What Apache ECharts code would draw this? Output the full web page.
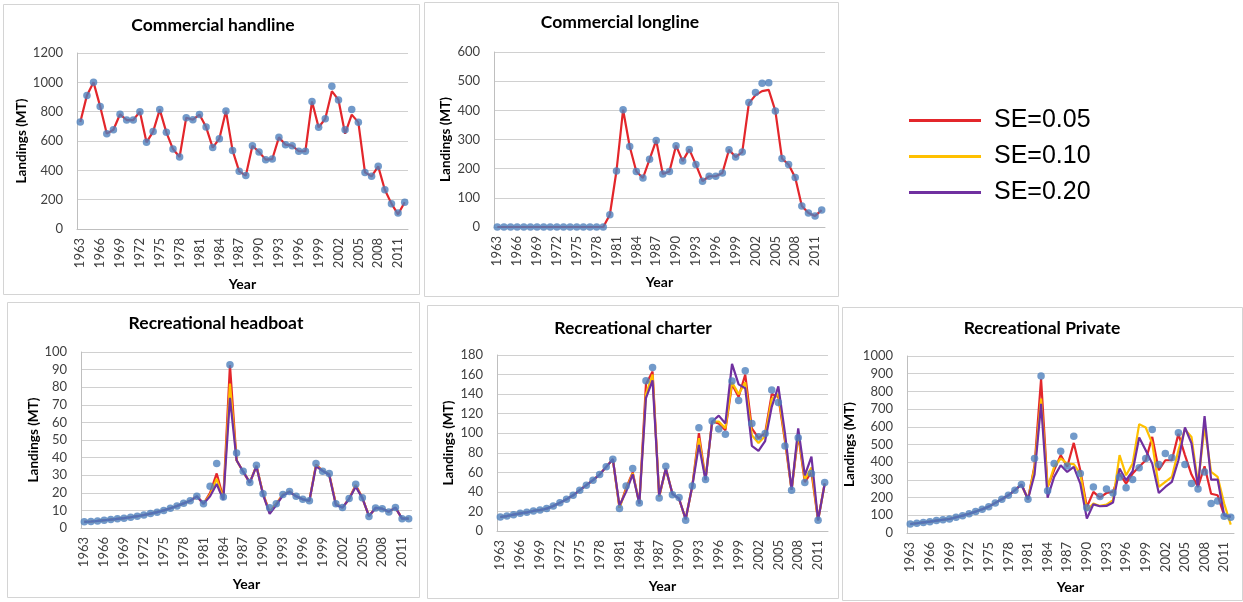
<!DOCTYPE html>
<html>
<head>
<meta charset="utf-8">
<script src="https://cdn.jsdelivr.net/npm/echarts@6/dist/echarts.min.js"></script>
<style>
  html, body { margin: 0; padding: 0; background: #ffffff; }
  #chart { width: 1243px; height: 602px; }
</style>
</head>
<body>
<div id="chart"></div>
<script>
// Years on every category axis
const years = ['1963','1964','1965','1966','1967','1968','1969','1970','1971','1972',
  '1973','1974','1975','1976','1977','1978','1979','1980','1981','1982',
  '1983','1984','1985','1986','1987','1988','1989','1990','1991','1992',
  '1993','1994','1995','1996','1997','1998','1999','2000','2001','2002',
  '2003','2004','2005','2006','2007','2008','2009','2010','2011','2012'];

const seNames = ['SE=0.05', 'SE=0.10', 'SE=0.20'];

// Commercial handline (MT)
const handlineObs = [730,911,1000,836,650,677,782,743,743,800,
  591,664,814,659,545,491,759,745,780,695,
  555,616,805,536,393,364,568,525,473,477,
  625,575,568,530,530,870,693,752,973,880,
  677,814,727,386,359,427,268,173,109,182];
const handlineSE05 = [730,911,1000,836,650,677,782,743,743,800,
  591,664,814,659,545,491,759,745,780,695,
  555,616,805,536,393,364,568,525,473,477,
  625,575,568,530,530,870,693,752,940,880,
  650,780,727,386,359,427,268,173,100,182];

// Commercial longline (MT)
const longlineObs = [0,0,0,0,0,0,0,0,0,0,
  0,0,0,0,0,0,0,42,192,402,
  276,190,168,232,297,182,190,279,226,266,
  214,157,174,174,185,265,240,257,427,461,
  493,495,398,235,214,170,72,48,38,58];
const longlineSE05 = [0,0,0,0,0,0,0,0,0,0,
  0,0,0,0,0,0,0,42,192,402,
  276,190,168,232,297,182,190,279,226,266,
  214,157,174,174,185,265,240,257,424,452,
  466,470,398,235,214,170,72,48,38,58];

// Recreational headboat (MT)
const headboatObs = [3.5,3.7,4.0,4.4,4.8,5.2,5.6,6.1,6.7,7.4,
  8.2,9.0,10.0,11.2,12.5,14.0,15.5,18.0,13.8,23.7,
  36.6,17.6,92.8,42.6,32.2,25.8,35.6,19.5,11.5,13.8,
  19.1,20.8,18.0,16.3,15.5,36.6,32.2,30.9,13.8,11.6,
  16.7,24.8,17.2,6.6,11.4,11.0,9.1,11.6,5.3,5.3];
const headboatSE05 = [3.5,3.7,4.0,4.4,4.8,5.2,5.6,6.1,6.7,7.4,
  8.2,9.0,10.0,11.2,12.5,14.0,15.5,18.0,13.8,20.0,
  31.0,17.0,92.5,38.5,32.0,25.8,35.4,19.5,9.0,13.8,
  19.0,20.8,18.0,16.3,15.5,36.0,32.5,30.5,13.8,11.6,
  16.7,24.5,17.2,6.8,11.4,11.0,9.3,11.6,5.3,5.3];
const headboatSE10 = [3.5,3.7,4.0,4.4,4.8,5.2,5.6,6.1,6.7,7.4,
  8.2,9.0,10.0,11.2,12.5,14.0,15.5,18.0,13.8,19.0,
  28.0,16.5,82.0,38.5,32.0,25.8,35.2,19.3,8.5,13.5,
  18.8,20.6,18.0,16.3,15.5,35.5,32.5,30.0,13.5,11.6,
  16.5,24.0,17.0,6.8,11.4,11.0,9.3,11.6,5.3,5.3];
const headboatSE20 = [3.5,3.7,4.0,4.4,4.8,5.2,5.6,6.1,6.7,7.4,
  8.2,9.0,10.0,11.2,12.5,14.0,15.5,18.0,13.8,18.0,
  25.0,16.0,74.0,38.5,32.0,25.8,35.0,19.0,8.0,13.0,
  18.5,20.5,18.0,16.3,15.5,35.0,32.5,30.0,13.0,11.6,
  16.5,23.5,17.0,6.8,11.4,11.0,9.3,11.6,5.3,5.3];

// Recreational charter (MT)
const charterObs = [14.3,15.3,16.7,18.1,19.1,20.5,21.5,22.9,25.6,29.0,
  32.4,36.5,41.7,46.8,52.0,57.7,65.6,73.4,22.9,46.1,
  63.9,28.7,153.7,167.3,33.8,66.3,37.2,34.2,10.9,46.1,
  105.5,52.6,112.4,104.2,99.0,153.3,133.5,163.9,110.0,96.3,
  99.7,144.1,131.5,87.0,41.7,95.3,49.5,58.7,10.9,49.5];
const charterSE05 = [14.3,15.3,16.7,18.1,19.1,20.5,21.5,22.9,25.6,29.0,
  32.4,36.5,41.7,46.8,52.0,57.7,65.6,73.4,24,44,
  60,28,150,163,35,64,38,33,12,46,
  100,53,112,110,103,150,137,160,105,95,
  100,140,137,92,42,98,50,60,11,49];
const charterSE10 = [14.3,15.3,16.7,18.1,19.1,20.5,21.5,22.9,25.6,29.0,
  32.4,36.5,41.7,46.8,52.0,57.7,65.6,73.4,24,42,
  59,28,140,160,35,64,38,33,12,46,
  95,53,112,112,105,152,140,152,98,90,
  97,135,140,95,42,100,53,65,11,48];
const charterSE20 = [14.3,15.3,16.7,18.1,19.1,20.5,21.5,22.9,25.6,29.0,
  32.4,36.5,41.7,46.8,52.0,57.7,65.6,73.4,26,40,
  58,28,136,154,36,64,38,33,12,46,
  88,52,112,118,110,171,150,146,87,82,
  92,127,148,100,42,105,57,76,11,48];

// Recreational private (MT)
const privateObs = [51,55,60,64,70,75,79,89,98,109,
  121,134,149,170,191,213,242,274,191,421,
  887,238,392,462,379,547,336,143,260,206,
  249,226,317,255,302,368,421,585,387,449,
  425,566,387,279,249,345,166,181,94,89];
const privateSE05 = [51,55,60,64,70,75,79,89,98,109,
  121,134,149,170,191,213,242,274,191,380,
  870,260,355,440,374,509,355,147,232,200,
  226,232,336,279,336,374,411,543,355,411,
  411,560,440,330,260,377,222,213,100,91];
const privateSE10 = [51,55,60,64,70,75,79,89,98,109,
  121,134,149,170,191,213,242,274,191,370,
  760,260,374,421,392,389,336,128,166,153,
  160,185,440,326,392,615,596,506,260,289,
  317,468,585,543,279,600,345,317,166,47];
const privateSE20 = [51,55,60,64,70,75,79,89,98,109,
  121,134,149,170,191,213,242,274,191,330,
  730,200,317,383,345,374,279,81,162,151,
  153,172,364,298,349,540,468,392,226,260,
  289,411,596,506,260,660,302,302,100,91];

// Panel layout and styling
const lineColors = ['#E3262B', '#FFC000', '#7030A0'];
const dotColor = '#4F81BD';
const tickFont = 'Lato, "Open Sans", sans-serif';

const panels = [
  { title: 'Commercial handline', tx: 213, ty: 25, box: [3, 4, 416, 290],
    grid: { left: 77, top: 53, width: 331, height: 176 }, max: 1200, step: 200,
    yGap: 47, xGap: 48, obs: handlineObs, lines: [handlineSE05] },
  { title: 'Commercial longline', tx: 620, ty: 22, box: [424, 2, 414, 294],
    grid: { left: 494, top: 52, width: 331, height: 175 }, max: 600, step: 100,
    yGap: 41, xGap: 48, obs: longlineObs, lines: [longlineSE05] },
  { title: 'Recreational headboat', tx: 216, ty: 323, box: [7, 302, 412, 295],
    grid: { left: 81, top: 352, width: 331, height: 176 }, max: 100, step: 10,
    yGap: 40, xGap: 49, obs: headboatObs, lines: [headboatSE05, headboatSE10, headboatSE20] },
  { title: 'Recreational charter', tx: 633, ty: 328, box: [427, 305, 411, 293],
    grid: { left: 497, top: 355, width: 331, height: 176 }, max: 180, step: 20,
    yGap: 41, xGap: 48, obs: charterObs, lines: [charterSE05, charterSE10, charterSE20] },
  { title: 'Recreational Private', tx: 1042, ty: 328, box: [842, 307, 400, 293],
    grid: { left: 907, top: 356, width: 327, height: 177 }, max: 1000, step: 100,
    yGap: 50, xGap: 47, obs: privateObs, lines: [privateSE05, privateSE10, privateSE20] }
];

const grids = [], xAxes = [], yAxes = [], series = [], graphics = [];

panels.forEach((p, i) => {
  graphics.push({
    type: 'rect', silent: true, z: -10,
    shape: { x: p.box[0] + 0.5, y: p.box[1] + 0.5, width: p.box[2], height: p.box[3] },
    style: { fill: '#ffffff', stroke: '#D4D4D4', lineWidth: 1 }
  });
  graphics.push({
    type: 'text', silent: true,
    x: p.tx, y: p.ty,
    style: { text: p.title, fill: '#000000', font: 'bold 17.5px Lato, "Open Sans", sans-serif',
      align: 'center', verticalAlign: 'middle' }
  });

  grids.push(Object.assign({ containLabel: false }, p.grid));

  xAxes.push({
    type: 'category', gridIndex: i, data: years, boundaryGap: true,
    axisLine: { show: true, lineStyle: { color: '#BFBFBF', width: 1 } },
    axisTick: { show: false },
    axisLabel: { rotate: 90, interval: 2, margin: 9, color: '#404040',
      fontFamily: tickFont, fontSize: 13 },
    splitLine: { show: false },
    name: 'Year', nameLocation: 'middle', nameGap: p.xGap,
    nameTextStyle: { fontFamily: tickFont, fontWeight: 'bold', fontSize: 14, color: '#000' }
  });

  yAxes.push({
    type: 'value', gridIndex: i, min: 0, max: p.max, interval: p.step,
    axisLine: { show: true, lineStyle: { color: '#BFBFBF', width: 1 } },
    axisTick: { show: false },
    axisLabel: { margin: 14, color: '#404040', fontFamily: tickFont, fontSize: 13,
      formatter: v => String(v) },
    splitLine: { show: true, lineStyle: { color: '#D0D0D0', width: 1 } },
    name: 'Landings (MT)', nameLocation: 'middle', nameRotate: 90, nameGap: p.yGap,
    nameTextStyle: { fontFamily: tickFont, fontWeight: 'bold', fontSize: 13.5, color: '#000' }
  });

  p.lines.forEach((vals, k) => {
    series.push({
      type: 'line', name: seNames[k], xAxisIndex: i, yAxisIndex: i,
      data: vals, symbol: 'none', smooth: false, z: 2 + k,
      lineStyle: { color: lineColors[k], width: 2.2 },
      itemStyle: { color: lineColors[k] },
      emphasis: { disabled: true }
    });
  });

  series.push({
    type: 'scatter', name: 'Observed', xAxisIndex: i, yAxisIndex: i,
    data: p.obs, symbol: 'circle', symbolSize: 7.5, z: 10,
    itemStyle: { color: dotColor },
    emphasis: { disabled: true }
  });
});

const chart = echarts.init(document.getElementById('chart'), null, { renderer: 'canvas' });
chart.setOption({
  animation: false,
  backgroundColor: '#ffffff',
  grid: grids,
  xAxis: xAxes,
  yAxis: yAxes,
  series: series,
  graphic: graphics,
  legend: {
    data: seNames,
    orient: 'vertical',
    left: 904, top: 103,
    icon: 'rect',
    itemWidth: 72, itemHeight: 3,
    itemGap: 11,
    textStyle: { fontFamily: '"Liberation Sans", Arial, sans-serif', fontSize: 25,
      color: '#000', padding: [0, 0, 0, 8] }
  }
});
</script>
</body>
</html>
